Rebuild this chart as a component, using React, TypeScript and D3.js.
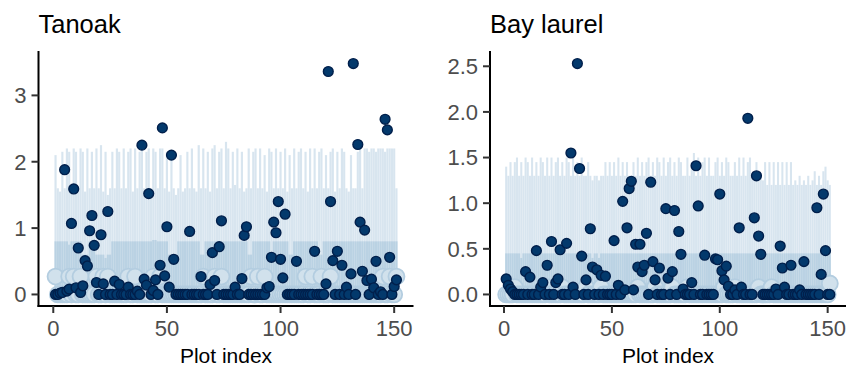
import React from "react";
import * as d3 from "d3";

// ---------- data ----------
const plotIndex: number[] = d3.range(1, 152);

const xTicks = [0, 50, 100, 150];
const tanoakYTicks = [0, 1, 2, 3];
const bayYTicks = [0, 0.5, 1, 1.5, 2, 2.5];

// observed values (dark points)
const tanoakObs = [
  0, 0, 0.02, 0.03, 1.88, 0.05, 0.08, 1.07, 1.59, 0.1,
  0.7, 0.03, 0.13, 0.51, 0.43, 0.96, 1.19, 0.74, 0.18, 0,
  0.9, 0.16, 0, 1.25, 0, 0, 0.2, 0, 0.15, 0,
  0, 0, 0.11, 0, 0, 0, 0.05, 0, 2.25, 0.23,
  0.14, 1.52, 0, 0.06, 0.22, 0, 0.44, 2.51, 0.28, 1.02,
  0.11, 2.1, 0.53, 0, 0, 0, 0, 0, 0, 0.95,
  0, 0, 0, 0, 0.27, 0, 0, 0, 0.15, 0.63,
  0.21, 0, 0.72, 1.11, 0, 0, 0, 0, 0, 0.11,
  0, 0, 0.24, 0.89, 1.02, 0, 0, 0, 0, 0,
  0, 0, 0, 0.1, 0.12, 0.56, 1.09, 0.93, 1.4, 0.53,
  0.25, 1.21, 0, 0, 0, 0, 0.5, 0, 0, 0,
  0, 0, 0, 0, 0.65, 0, 0, 0, 0, 0.16,
  3.36, 1.4, 0.51, 0, 0.65, 0, 0.44, 0, 0.11, 0,
  0.31, 3.48, 0, 2.26, 1.09, 0.35, 0.97, 0.21, 0, 0.23,
  0.1, 0.5, 0, 0.04, 0, 2.64, 2.48, 0.56, 0, 0.12,
  0.22,
];

const bayObs = [
  0.17, 0.1, 0.06, 0.03, 0, 0, 0, 0, 0, 0.25,
  0, 0.19, 0, 0, 0.48, 0, 0.08, 0.13, 0, 0.32,
  0, 0.58, 0, 0.13, 0.17, 0.49, 0, 0, 0.56, 0,
  1.55, 0.08, 0, 2.53, 1.38, 0.42, 0, 0.16, 0, 0.72,
  0.3, 0, 0.27, 0, 0.21, 0, 0.2, 0, 0, 0,
  0.59, 0, 0.1, 0, 1.02, 0.05, 0.73, 1.16, 1.24, 0.05,
  0.55, 0.3, 0.55, 0.25, 0.32, 0.67, 0, 1.23, 0.36, 0.16,
  0, 0.29, 0, 0, 0.94, 0.18, 0, 0.25, 0.92, 0,
  0.69, 0.44, 0.06, 0, 0, 0, 0.13, 0, 1.41, 0.97,
  0, 0, 0.43, 0, 0, 0, 0, 0.39, 0.38, 1.1,
  0.26, 0.16, 0.31, 0.09, 0, 0, 0.05, 0, 0.73, 0.08,
  0, 0, 1.93, 0, 0, 0.84, 1.3, 0.64, 0.44, 0,
  0, 0, 0, 0, 0, 0.06, 0, 0.53, 0.29, 0.08,
  0, 0, 0.32, 0, 0, 0, 0.05, 0, 0.36, 0,
  0, 0, 0, 0, 0.95, 0, 0.22, 1.1, 0.48, 0,
  0,
];

// predictive medians (light circles)
const tanoakMed = [
  0.27, 0, 0, 0, 0, 0, 0.27, 0, 0.27, 0,
  0, 0.27, 0, 0, 0, 0, 0, 0, 0.27, 0,
  0, 0.27, 0, 0.27, 0, 0, 0, 0, 0, 0,
  0, 0, 0.27, 0, 0, 0.27, 0, 0, 0, 0,
  0, 0, 0, 0.27, 0, 0, 0.27, 0, 0, 0,
  0, 0, 0, 0, 0, 0, 0, 0, 0, 0,
  0, 0, 0, 0, 0, 0.27, 0, 0, 0, 0,
  0.27, 0, 0, 0.27, 0, 0, 0, 0, 0, 0,
  0, 0, 0, 0, 0, 0, 0.27, 0, 0, 0.27,
  0, 0, 0.27, 0, 0, 0, 0, 0, 0, 0,
  0, 0, 0, 0, 0, 0, 0, 0, 0, 0,
  0.27, 0, 0, 0.27, 0, 0, 0, 0.27, 0, 0,
  0, 0.27, 0, 0, 0, 0, 0, 0, 0, 0,
  0, 0, 0, 0, 0, 0, 0, 0, 0, 0,
  0, 0, 0, 0, 0.27, 0, 0, 0.27, 0, 0,
  0.27,
];

const bayMed = [
  0, 0, 0, 0, 0.08, 0, 0, 0, 0, 0,
  0, 0, 0, 0, 0, 0, 0, 0, 0, 0.08,
  0, 0, 0, 0, 0, 0, 0.08, 0, 0, 0,
  0, 0, 0, 0, 0, 0, 0, 0.08, 0, 0,
  0, 0, 0, 0, 0.08, 0, 0, 0, 0, 0,
  0, 0, 0, 0, 0, 0, 0, 0, 0, 0,
  0, 0.08, 0, 0, 0, 0, 0, 0, 0, 0.08,
  0, 0, 0, 0, 0, 0, 0, 0.08, 0, 0,
  0, 0, 0, 0, 0.08, 0, 0, 0, 0, 0,
  0, 0, 0, 0, 0, 0, 0, 0, 0, 0,
  0, 0.08, 0, 0, 0, 0, 0.08, 0, 0, 0,
  0, 0, 0, 0, 0, 0, 0, 0.08, 0, 0,
  0, 0, 0, 0.08, 0, 0, 0, 0, 0, 0,
  0, 0, 0, 0, 0, 0, 0, 0, 0, 0,
  0, 0, 0, 0, 0, 0, 0, 0, 0, 0,
  0.12,
];

// 50% interval upper bounds
const tanoakU50 = [
  0.8, 0.8, 0.8, 0.8, 0.8, 0.8, 0.75, 0.8, 0.8, 0.8,
  0.8, 0.8, 0.6, 0.6, 0.6, 0.8, 0.8, 0.8, 0.6, 0.6,
  0.6, 0.6, 0.55, 0.6, 0.6, 0.8, 0.8, 0.8, 0.8, 0.8,
  0.8, 0.8, 0.8, 0.8, 0.8, 0.8, 0.8, 0.8, 0.8, 0.8,
  0.8, 0.8, 0.8, 0.82, 0.82, 0.8, 0.8, 0.8, 0.8, 0.8,
  0.6, 0.6, 0.6, 0.6, 0.8, 0.8, 0.8, 0.8, 0.8, 0.8,
  0.8, 0.8, 0.8, 0.8, 0.6, 0.6, 0.8, 0.8, 0.8, 0.8,
  0.8, 0.8, 0.8, 0.8, 0.8, 0.8, 0.8, 0.8, 0.8, 0.8,
  0.8, 0.8, 0.8, 0.8, 0.8, 0.6, 0.6, 0.8, 0.8, 0.8,
  0.8, 0.8, 0.8, 0.8, 0.8, 0.6, 0.8, 0.8, 0.8, 0.8,
  0.8, 0.8, 0.8, 0.6, 0.6, 0.8, 0.8, 0.8, 0.8, 0.8,
  0.8, 0.8, 0.8, 0.8, 0.8, 0.8, 0.6, 0.6, 0.8, 0.8,
  0.8, 0.8, 0.8, 0.8, 0.8, 0.8, 0.8, 0.8, 0.8, 0.8,
  0.8, 0.8, 0.8, 0.8, 0.8, 0.8, 0.8, 0.8, 0.8, 0.8,
  0.8, 0.8, 0.8, 0.8, 0.8, 0.8, 0.8, 0.8, 0.8, 0.8,
  0.8,
];

const bayU50 = [
  0.45, 0.45, 0.45, 0.45, 0.45, 0.45, 0.45, 0.4, 0.45, 0.45,
  0.45, 0.45, 0.45, 0.45, 0.45, 0.45, 0.45, 0.45, 0.45, 0.45,
  0.45, 0.45, 0.45, 0.45, 0.45, 0.45, 0.45, 0.45, 0.45, 0.45,
  0.45, 0.45, 0.45, 0.45, 0.45, 0.45, 0.45, 0.45, 0.45, 0.45,
  0.4, 0.45, 0.45, 0.4, 0.45, 0.45, 0.45, 0.45, 0.45, 0.45,
  0.45, 0.45, 0.45, 0.45, 0.45, 0.45, 0.45, 0.45, 0.45, 0.45,
  0.45, 0.45, 0.45, 0.45, 0.45, 0.45, 0.45, 0.45, 0.45, 0.45,
  0.45, 0.45, 0.45, 0.45, 0.45, 0.45, 0.45, 0.45, 0.45, 0.45,
  0.45, 0.45, 0.45, 0.45, 0.45, 0.45, 0.45, 0.45, 0.45, 0.45,
  0.45, 0.45, 0.45, 0.45, 0.45, 0.45, 0.45, 0.45, 0.45, 0.45,
  0.45, 0.45, 0.45, 0.45, 0.45, 0.45, 0.45, 0.45, 0.45, 0.45,
  0.45, 0.45, 0.45, 0.45, 0.45, 0.45, 0.45, 0.45, 0.45, 0.45,
  0.45, 0.45, 0.45, 0.45, 0.45, 0.45, 0.45, 0.45, 0.45, 0.45,
  0.45, 0.45, 0.45, 0.45, 0.45, 0.45, 0.45, 0.45, 0.45, 0.45,
  0.45, 0.45, 0.45, 0.45, 0.45, 0.45, 0.45, 0.45, 0.45, 0.45,
  0.45,
];

// 90% interval upper bounds
const tanoakU90 = [
  2.1, 1.6, 1.55, 2.15, 1.6, 2.2, 2.15, 1.6, 2.2, 2.15,
  1.6, 2.2, 2.15, 1.55, 2.2, 1.6, 2.15, 1.6, 2.2, 1.6,
  2.25, 1.55, 2.15, 1.5, 1.6, 2.15, 1.6, 2.2, 2.15, 1.6,
  2.2, 1.6, 2.15, 2.2, 1.55, 2.2, 1.6, 2.15, 2.2, 1.6,
  2.15, 2.2, 1.6, 2.2, 2.15, 1.6, 2.2, 2.2, 1.6, 2.15,
  1.55, 2.15, 1.6, 1.5, 1.6, 2.1, 1.55, 1.6, 2.15, 1.6,
  2.2, 1.6, 1.55, 2.25, 1.6, 2.2, 1.6, 2.15, 1.55, 2.2,
  2.25, 1.6, 2.15, 2.2, 1.6, 2.3, 2.2, 1.6, 2.15, 1.65,
  2.2, 1.6, 2.15, 1.55, 1.6, 2.2, 1.6, 2.15, 2.2, 1.6,
  2.2, 1.6, 2.1, 1.55, 2.2, 2.15, 1.6, 2.2, 1.6, 2.15,
  1.6, 2.2, 1.55, 2.1, 1.6, 2.2, 1.6, 2.15, 2.2, 1.6,
  2.15, 1.55, 2.2, 1.6, 2.2, 1.6, 2.15, 2.2, 1.6, 2.1,
  1.6, 2.15, 2.2, 1.55, 2.15, 1.6, 2.2, 2.15, 1.6, 1.55,
  2.1, 1.6, 1.6, 2.15, 2.2, 1.6, 2.2, 2.2, 2.15, 2.2,
  2.2, 2.15, 2.2, 2.2, 2.2, 2.15, 2.2, 2.2, 2.2, 2.2,
  1.6,
];

const bayU90 = [
  1.4, 1.3, 1.45, 1.3, 1.45, 1.5, 1.3, 1.45, 1.3, 1.5,
  1.45, 1.3, 1.5, 1.3, 1.45, 1.3, 1.5, 1.45, 1.3, 1.5,
  1.3, 1.5, 1.3, 1.45, 1.5, 1.3, 1.45, 1.3, 1.5, 1.45,
  1.3, 1.5, 1.3, 1.45, 1.3, 1.5, 1.3, 1.3, 1.45, 1.3,
  1.25, 1.3, 1.3, 1.25, 1.3, 1.3, 1.45, 1.3, 1.45, 1.3,
  1.45, 1.3, 1.5, 1.3, 1.45, 1.3, 1.45, 1.3, 1.3, 1.45,
  1.3, 1.5, 1.3, 1.45, 1.3, 1.45, 1.5, 1.3, 1.45, 1.3,
  1.5, 1.45, 1.3, 1.5, 1.3, 1.45, 1.5, 1.3, 1.45, 1.3,
  1.5, 1.45, 1.3, 1.3, 1.5, 1.3, 1.45, 1.55, 1.3, 1.5,
  1.3, 1.45, 1.5, 1.3, 1.5, 1.3, 1.3, 1.45, 1.5, 1.3,
  1.45, 1.3, 1.5, 1.45, 1.3, 1.3, 1.45, 1.3, 1.5, 1.3,
  1.5, 1.3, 1.45, 1.5, 1.3, 1.3, 1.45, 1.3, 1.3, 1.25,
  1.45, 1.2, 1.45, 1.2, 1.45, 1.2, 1.45, 1.2, 1.45, 1.2,
  1.45, 1.2, 1.45, 1.2, 1.25, 1.2, 1.3, 1.2, 1.25, 1.2,
  1.3, 1.2, 1.25, 1.35, 1.2, 1.3, 1.2, 1.35, 1.4, 1.25,
  1.2,
];

const panelTitles = ["Tanoak", "Bay laurel"];
const xLabel = "Plot index";

// ---------- drawing ----------
const W = 850;
const H = 375;
const TOP = 52;
const BOTTOM = 306;
const FONT = "'Liberation Sans', Arial, Helvetica, sans-serif";

const C_OUTER = "#d1e1ec";
const C_INNER = "#b3cde0";
const C_MED_FILL = "#d1e1ec";
const C_MED_STROKE = "#b3cde0";
const C_Y_FILL = "#03396c";
const C_Y_STROKE = "#011f4b";

type PanelProps = {
  title: string;
  x0: number;
  x1: number;
  obs: number[];
  med: number[];
  u50: number[];
  u90: number[];
  yTicks: number[];
  yFmt: (v: number) => string;
};

function Panel({ title, x0, x1, obs, med, u50, u90, yTicks, yFmt }: PanelProps) {
  const n = plotIndex.length;
  const xPad = (n - 1) * 0.05;
  const x = d3.scaleLinear().domain([1 - xPad, n + xPad]).range([x0, x1]);
  const yMax = d3.max([...obs, ...u90]) as number;
  const yMin = 0;
  const yPad = (yMax - yMin) * 0.05;
  const y = d3.scaleLinear().domain([yMin - yPad, yMax + yPad]).range([BOTTOM, TOP]);
  const step = x(2) - x(1);
  const bw = step * 0.95;

  return (
    <g>
      <text x={x0} y={33} fontFamily={FONT} fontSize={25.5} fill="#000">
        {title}
      </text>
      {/* outer 90% intervals */}
      <g>
        {plotIndex.map((idx, i) => (
          <rect
            key={"o" + idx}
            x={x(idx) - bw / 2}
            width={bw}
            y={y(u90[i])}
            height={y(0) - y(u90[i])}
            fill={C_OUTER}
            fillOpacity={0.85}
          />
        ))}
      </g>
      {/* inner 50% intervals */}
      <g>
        {plotIndex.map((idx, i) => (
          <rect
            key={"i" + idx}
            x={x(idx) - bw / 2}
            width={bw}
            y={y(u50[i])}
            height={y(0) - y(u50[i])}
            fill={C_INNER}
            fillOpacity={0.8}
          />
        ))}
      </g>
      {/* medians */}
      <g>
        {plotIndex.map((idx, i) => (
          <circle
            key={"m" + idx}
            cx={x(idx)}
            cy={y(med[i])}
            r={8}
            fill={C_MED_FILL}
            stroke={C_MED_STROKE}
            strokeWidth={1.8}
          />
        ))}
      </g>
      {/* observed */}
      <g>
        {plotIndex.map((idx, i) => (
          <circle
            key={"y" + idx}
            cx={x(idx)}
            cy={y(obs[i])}
            r={4.9}
            fill={C_Y_FILL}
            stroke={C_Y_STROKE}
            strokeWidth={1.4}
          />
        ))}
      </g>
      {/* axes */}
      <line x1={x0} x2={x0} y1={TOP - 1} y2={BOTTOM + 1} stroke="#000" strokeWidth={2} />
      <line x1={x0 - 1} x2={x1} y1={BOTTOM} y2={BOTTOM} stroke="#000" strokeWidth={2} />
      {yTicks.map((t) => (
        <g key={"yt" + t}>
          <line x1={x0 - 7} x2={x0} y1={y(t)} y2={y(t)} stroke="#333" strokeWidth={2} />
          <text
            x={x0 - 12}
            y={y(t)}
            dy="0.36em"
            textAnchor="end"
            fontFamily={FONT}
            fontSize={22}
            fill="#4d4d4d"
          >
            {yFmt(t)}
          </text>
        </g>
      ))}
      {xTicks.map((t) => (
        <g key={"xt" + t}>
          <line x1={x(t)} x2={x(t)} y1={BOTTOM} y2={BOTTOM + 7} stroke="#333" strokeWidth={2} />
          <text
            x={x(t)}
            y={336}
            textAnchor="middle"
            fontFamily={FONT}
            fontSize={22}
            fill="#4d4d4d"
          >
            {t}
          </text>
        </g>
      ))}
      <text
        x={(x0 + x1) / 2}
        y={363}
        textAnchor="middle"
        fontFamily={FONT}
        fontSize={21}
        fill="#000"
      >
        {xLabel}
      </text>
    </g>
  );
}

export default function App() {
  return (
    <svg
      width={W}
      height={H}
      style={{ position: "absolute", left: 0, top: 0, background: "#fff" }}
    >
      <rect width={W} height={H} fill="#fff" />
      <Panel
        title={panelTitles[0]}
        x0={38.5}
        x1={413.5}
        obs={tanoakObs}
        med={tanoakMed}
        u50={tanoakU50}
        u90={tanoakU90}
        yTicks={tanoakYTicks}
        yFmt={(v) => d3.format("d")(v)}
      />
      <Panel
        title={panelTitles[1]}
        x0={490}
        x1={846}
        obs={bayObs}
        med={bayMed}
        u50={bayU50}
        u90={bayU90}
        yTicks={bayYTicks}
        yFmt={(v) => d3.format(".1f")(v)}
      />
    </svg>
  );
}
